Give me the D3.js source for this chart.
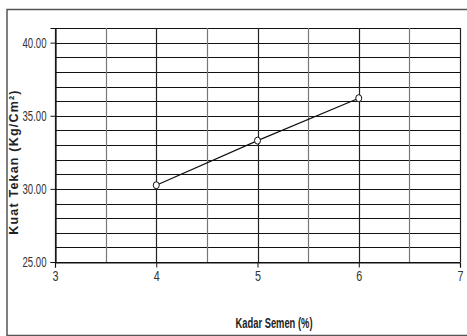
<!DOCTYPE html>
<html>
<head>
<meta charset="utf-8">
<script src="https://cdn.jsdelivr.net/npm/d3@7"></script>
<style>
  body { margin: 0; background: #fff; }
</style>
</head>
<body>
<div id="chart"></div>
<script>
// data
const kadarSemen = [4, 5, 6];
const kuatTekan = [30.25, 33.3, 36.2];
const xTicks = [3, 4, 5, 6, 7];
const yTicks = [25, 30, 35, 40];

const w = 467, h = 336;
const margin = { top: 28, right: 7, bottom: 74, left: 55 };
const font = "Liberation Sans, Arial, sans-serif";

const svg = d3.select("#chart").append("svg")
    .attr("width", w)
    .attr("height", h);

// outer frame (left, top, bottom edges visible)
svg.append("path")
    .attr("d", "M467,9.5 H7 V335.5 H467")
    .attr("fill", "none")
    .attr("stroke", "#555")
    .attr("stroke-width", 1.5);

// SCALES
const x = d3.scaleLinear().domain([3, 7]).range([margin.left, w - margin.right]);
const y = d3.scaleLinear().domain([25, 41]).range([h - margin.bottom, margin.top]);

const g = svg.append("g");

// grid
g.selectAll(".hgrid").data(d3.range(25, 42, 1)).enter().append("line")
    .attr("class", "hgrid")
    .attr("x1", x(3)).attr("x2", x(7))
    .attr("y1", d => Math.round(y(d)) + 0.5).attr("y2", d => Math.round(y(d)) + 0.5)
    .attr("stroke", "#111").attr("stroke-width", 1.2);

g.selectAll(".vgrid").data(d3.range(3, 7.01, 0.5)).enter().append("line")
    .attr("class", "vgrid")
    .attr("y1", y(25)).attr("y2", y(41))
    .attr("x1", d => Math.round(x(d)) + 0.5).attr("x2", d => Math.round(x(d)) + 0.5)
    .attr("stroke", d => d % 1 === 0 ? "#222" : "#777").attr("stroke-width", 1.2);

// AXES
const xAxis = g.append("g")
    .attr("transform", "translate(0," + (Math.round(y(25)) + 0.5) + ")")
    .call(d3.axisBottom(x).tickValues(xTicks).tickSize(5).tickPadding(4).tickFormat(d3.format("d")));

const yAxis = g.append("g")
    .attr("transform", "translate(" + (Math.round(x(3)) + 0.5) + ",0)")
    .call(d3.axisLeft(y).tickValues(yTicks).tickSize(5).tickPadding(4).tickFormat(d3.format(".2f")));

[xAxis, yAxis].forEach(a => {
    a.select(".domain").attr("stroke", "#111").attr("stroke-width", 1.2);
    a.selectAll(".tick line").attr("stroke", "#111");
    a.selectAll("text")
        .attr("font-family", font)
        .attr("font-size", 14)
        .attr("fill", "#333")
        .attr("lengthAdjust", "spacingAndGlyphs");
});
// condensed look of the original font
xAxis.selectAll("text").attr("textLength", 6);
yAxis.selectAll("text").attr("textLength", 24);

// AXES LABELS
svg.append("text")
    .text("Kadar Semen (%)")
    .attr("x", 274).attr("y", 328)
    .attr("text-anchor", "middle")
    .attr("font-family", font)
    .attr("font-size", 15)
    .attr("font-weight", "bold")
    .attr("fill", "#222")
    .attr("textLength", 77)
    .attr("lengthAdjust", "spacingAndGlyphs");

svg.append("text")
    .text("Kuat Tekan (Kg/Cm²)")
    .attr("transform", "translate(18,162) rotate(-90)")
    .attr("text-anchor", "middle")
    .attr("font-family", font)
    .attr("font-size", 12.5)
    .attr("font-weight", "bold")
    .attr("letter-spacing", 1.2)
    .attr("fill", "#222");

// LINE + MARKERS
const pts = kadarSemen.map((k, i) => [k, kuatTekan[i]]);

g.append("path")
    .datum(pts)
    .attr("d", d3.line().x(d => x(d[0])).y(d => y(d[1])))
    .attr("fill", "none")
    .attr("stroke", "#111")
    .attr("stroke-width", 1.2);

g.selectAll(".pt").data(pts).enter().append("ellipse")
    .attr("class", "pt")
    .attr("cx", d => x(d[0])).attr("cy", d => y(d[1]))
    .attr("rx", 3).attr("ry", 3.5)
    .attr("fill", "#fff")
    .attr("stroke", "#111");
</script>
</body>
</html>
